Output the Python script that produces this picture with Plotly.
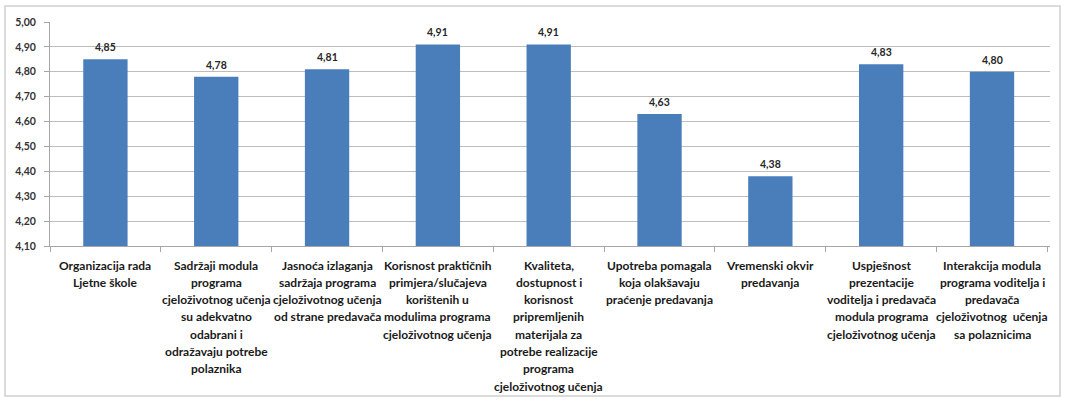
import plotly.graph_objects as go

# Survey items, each split into the lines shown under the axis
category_lines = [
    ["Organizacija rada", "Ljetne škole"],
    ["Sadržaji modula", "programa", "cjeloživotnog učenja", "su adekvatno",
     "odabrani i", "odražavaju potrebe", "polaznika"],
    ["Jasnoća izlaganja", "sadržaja programa", "cjeloživotnog učenja",
     "od strane predavača"],
    ["Korisnost praktičnih", "primjera/slučajeva", "korištenih u",
     "modulima programa", "cjeloživotnog učenja"],
    ["Kvaliteta,", "dostupnost i", "korisnost", "pripremljenih",
     "materijala za", "potrebe realizacije", "programa", "cjeloživotnog učenja"],
    ["Upotreba pomagala", "koja olakšavaju", "praćenje predavanja"],
    ["Vremenski okvir", "predavanja"],
    ["Uspješnost", "prezentacije", "voditelja i predavača", "modula programa",
     "cjeloživotnog učenja"],
    ["Interakcija modula", "programa voditelja i", "predavača",
     "cjeloživotnog  učenja", "sa polaznicima"],
]
categories = [" ".join(lines) for lines in category_lines]

# Mean ratings
scores = [4.85, 4.78, 4.81, 4.91, 4.91, 4.63, 4.38, 4.83, 4.80]

# Value-axis ticks
y_ticks = [4.10, 4.20, 4.30, 4.40, 4.50, 4.60, 4.70, 4.80, 4.90, 5.00]

FONT = "Lato"
BAR_COLOR = "#4A7EBB"
GRID_COLOR = "#BDBDBD"

fig = go.Figure()
fig.add_trace(go.Bar(
    x=categories,
    y=scores,
    marker=dict(color=BAR_COLOR, line=dict(width=0)),
    hoverinfo="skip",
))

annotations = []
# Value labels above the bars
for cat, val in zip(categories, scores):
    annotations.append(dict(
        x=cat, y=val, xref="x", yref="y",
        text=f"{val:.2f}".replace(".", ","),
        showarrow=False, yanchor="bottom", yshift=4,
        font=dict(family=FONT, size=10.5, color="#262626", weight="bold"),
    ))
# Multi-line category labels
LINE_STEP = 17.3
for cat, lines in zip(categories, category_lines):
    for i, line in enumerate(lines):
        annotations.append(dict(
            x=cat, y=0, xref="x", yref="paper",
            text=line, showarrow=False, yanchor="middle",
            yshift=-(19 + LINE_STEP * i),
            font=dict(family=FONT, size=12, color="#1a1a1a", weight="bold"),
        ))

fig.update_layout(
    width=1065, height=402,
    margin=dict(l=50, r=15, t=22, b=156),
    paper_bgcolor="white", plot_bgcolor="white",
    separators=",.",
    bargap=0.6,
    showlegend=False,
    annotations=annotations,
    shapes=[dict(
        type="rect", xref="paper", yref="paper",
        x0=-0.045, x1=1.01, y0=-0.67, y1=1.071,
        line=dict(color="#D0D0D0", width=1.5),
        fillcolor="rgba(0,0,0,0)", layer="below",
    )],
)
fig.update_xaxes(
    showticklabels=False,
    showline=True, linecolor="#A6A6A6", linewidth=1,
    ticks="outside", ticklen=5, tickcolor="#A6A6A6",
    tickson="boundaries",
    showgrid=False,
)
fig.update_yaxes(
    range=[4.10, 5.00],
    tickvals=y_ticks,
    tickformat=".2f",
    tickfont=dict(family=FONT, size=10.5, color="#333333", weight="bold"),
    ticklabelstandoff=6,
    showline=True, linecolor="#A6A6A6", linewidth=1,
    ticks="outside", ticklen=5, tickcolor="#A6A6A6",
    showgrid=True, gridcolor=GRID_COLOR, gridwidth=1.2,
    zeroline=False,
)

fig.write_html("out.html")
